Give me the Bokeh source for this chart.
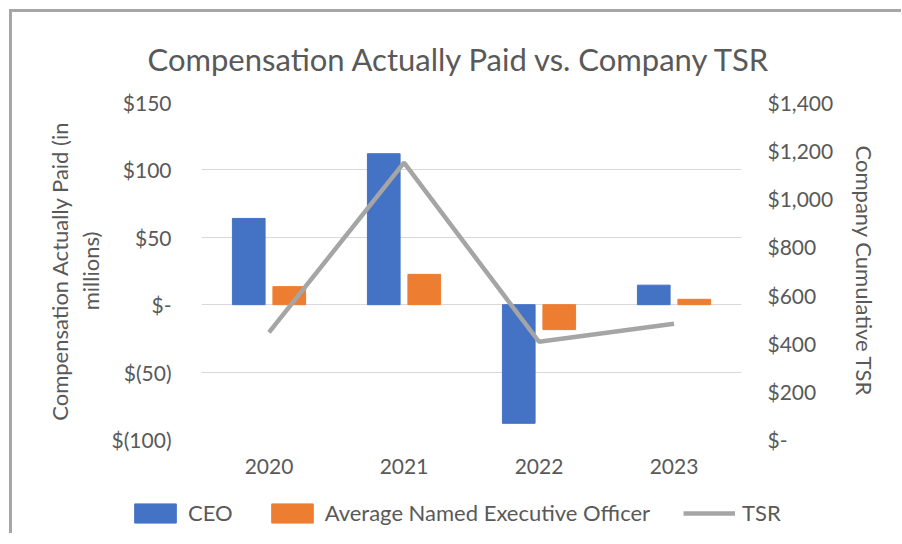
from bokeh.plotting import figure
from bokeh.layouts import column
from bokeh.models import (FactorRange, Range1d, LinearAxis, FixedTicker, Legend,
                          LegendItem, ColumnDataSource)
from bokeh.transform import dodge
from bokeh.embed import file_html
from bokeh.resources import INLINE

years = ["2020", "2021", "2022", "2023"]
ceo = [64, 112, -88, 14.5]
neo = [13.4, 22.5, -18.5, 4]
tsr = [445, 1150, 406, 481]

left_ticks = [-100, -50, 0, 50, 100, 150]
left_labels = ["$(100)", "$(50)", "$-", "$50", "$100", "$150"]
right_ticks = [0, 200, 400, 600, 800, 1000, 1200, 1400]
right_labels = ["$-", "$200", "$400", "$600", "$800", "$1,000", "$1,200", "$1,400"]
series_names = ["CEO", "Average Named Executive Officer", "TSR"]

FONT = "Lato"
TXT = "#595959"
C_CEO, C_NEO, C_TSR = "#4472C4", "#ED7D31", "#A5A5A5"

src = ColumnDataSource(dict(years=years, ceo=ceo, neo=neo, tsr=tsr))

p = figure(width=889, height=469, output_backend="svg", toolbar_location=None,
           x_range=FactorRange(factors=years, range_padding=0),
           y_range=Range1d(-100, 150),
           min_border_left=189, min_border_right=160, min_border_top=90,
           min_border_bottom=42)
p.frame_align = False
p.extra_y_ranges = {"tsr": Range1d(0, 1400)}
p.outline_line_color = None

p.title.text = "Compensation Actually Paid vs. Company TSR"
p.title.align = "left"
p.title.offset = -54
p.title.text_font = FONT
p.title.text_font_size = "31px"
p.title.text_font_style = "normal"
p.title.text_color = TXT
p.title.standoff = 50

p.vbar(x=dodge("years", -0.15, range=p.x_range), top="ceo", width=0.242,
       source=src, color=C_CEO)
p.vbar(x=dodge("years", 0.15, range=p.x_range), top="neo", width=0.242,
       source=src, color=C_NEO)
p.line(x="years", y="tsr", source=src, y_range_name="tsr",
       line_color=C_TSR, line_width=4.5)

p.xgrid.grid_line_color = None
p.ygrid.grid_line_color = "#D9D9D9"
p.ygrid.grid_line_width = 1.2
p.yaxis.ticker = FixedTicker(ticks=left_ticks)
p.yaxis.major_label_overrides = {t: l for t, l in zip(left_ticks, left_labels)}

for ax in [p.xaxis[0], p.yaxis[0]]:
    ax.axis_line_color = None
    ax.major_tick_line_color = None
    ax.minor_tick_line_color = None
    ax.major_label_text_font = FONT
    ax.major_label_text_font_size = "21px"
    ax.major_label_text_color = TXT

p.xaxis.major_label_standoff = 13
p.yaxis.major_label_standoff = 24
p.yaxis.axis_label = "Compensation Actually Paid (in\nmillions)"
p.yaxis.axis_label_text_font = FONT
p.yaxis.axis_label_text_font_size = "22px"
p.yaxis.axis_label_text_font_style = "normal"
p.yaxis.axis_label_text_color = TXT
p.yaxis.axis_label_text_line_height = 1.15
p.yaxis.axis_label_standoff = 5

rax = LinearAxis(y_range_name="tsr", ticker=FixedTicker(ticks=right_ticks))
rax.major_label_overrides = {t: l for t, l in zip(right_ticks, right_labels)}
rax.axis_line_color = None
rax.major_tick_line_color = None
rax.minor_tick_line_color = None
rax.major_label_text_font = FONT
rax.major_label_text_font_size = "21px"
rax.major_label_text_color = TXT
rax.major_label_standoff = 20
rax.axis_label = "Company Cumulative TSR"
rax.axis_label_text_font = FONT
rax.axis_label_text_font_size = "22px"
rax.axis_label_text_font_style = "normal"
rax.axis_label_text_color = TXT
rax.axis_label_standoff = 15
p.add_layout(rax, "right")

# legend strip (series drawn out of view; only the legend shows)
lf = figure(width=889, height=52, output_backend="svg", toolbar_location=None,
            x_axis_location=None, y_axis_location=None, min_border=0,
            x_range=FactorRange(factors=years), y_range=Range1d(5000, 5001))
lf.frame_align = False
lf.outline_line_color = None
lf.grid.visible = False
g1 = lf.vbar(x="years", top="ceo", width=0.242, source=src, color=C_CEO)
g2 = lf.vbar(x="years", top="neo", width=0.242, source=src, color=C_NEO)
g3 = lf.line(x="years", y="tsr", source=src, line_color=C_TSR, line_width=4.5)
legend = Legend(items=[LegendItem(label=n, renderers=[g]) for n, g in
                       zip(series_names, [g1, g2, g3])],
                orientation="horizontal", location=(117, 7),
                glyph_width=52, glyph_height=24, label_text_font=FONT,
                label_text_font_size="22px", label_text_color=TXT,
                spacing=33, label_standoff=7, padding=0, margin=0,
                border_line_color=None, background_fill_alpha=0)
lf.add_layout(legend, "center")

layout = column(p, lf, spacing=0)
layout.styles = {"border-left": "3px solid #A6A6A6", "border-top": "3px solid #A6A6A6",
                 "margin-left": "9px", "margin-top": "9px"}

open("out.html", "w").write(file_html(layout, INLINE))
